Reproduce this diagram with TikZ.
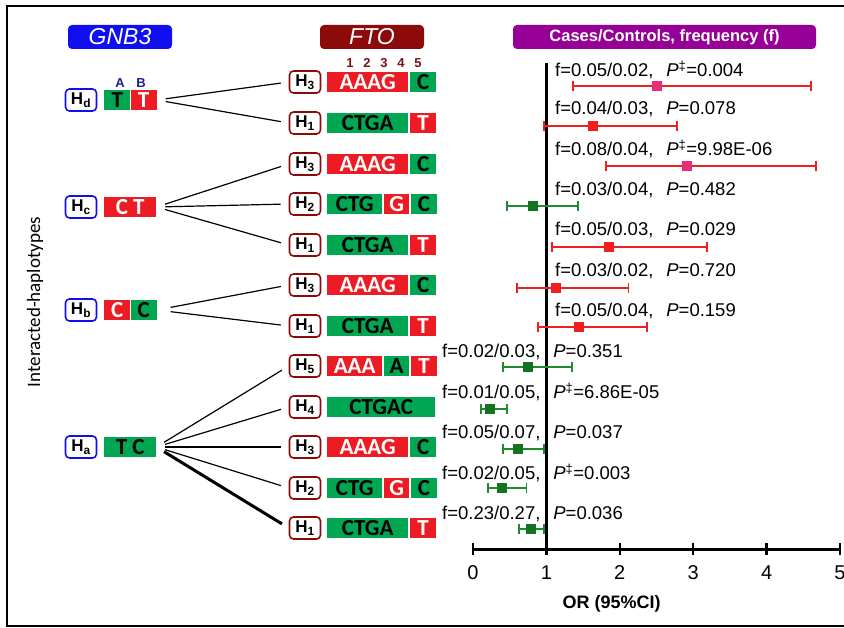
\documentclass[tikz,border=0pt]{standalone}
\usepackage{fontspec}
\setmainfont{Liberation Sans}
\newfontfamily\calibri{Carlito}
\usetikzlibrary{positioning, arrows.meta}

\definecolor{hgreen}{RGB}{0,166,81}
\definecolor{hred}{RGB}{237,28,36}
\definecolor{gblue}{RGB}{15,15,240}
\definecolor{fdark}{RGB}{140,10,10}
\definecolor{cpurple}{RGB}{150,0,150}
\definecolor{abblue}{RGB}{30,30,140}
\definecolor{numred}{RGB}{120,20,20}
\definecolor{ciGreen}{RGB}{30,140,45}
\definecolor{ptGreen}{RGB}{20,115,30}
\definecolor{ciRed}{RGB}{240,30,30}
\definecolor{ptPink}{RGB}{230,45,120}

\tikzset{
  header/.style={rounded corners=4pt, text=white, minimum width=104, minimum height=24, inner sep=0pt, font=\fontsize{23}{25}\selectfont\itshape},
  gnbH/.style={draw=gblue, line width=1.6pt, rounded corners=4pt, fill=white, minimum width=31, minimum height=22, inner sep=0pt, font=\fontsize{17}{19}\selectfont\bfseries},
  ftoH/.style={gnbH, draw=fdark},
  seqcell/.style={minimum height=20, inner sep=0pt, anchor=west, font=\calibri\fontsize{23}{24}\selectfont\bfseries},
  gcell/.style={seqcell, fill=hgreen, text=black},
  rcell/.style={seqcell, fill=hred, text=white},
  link/.style={line width=1.2pt, shorten <=9pt, shorten >=8pt},
  stat/.style={anchor=west, inner sep=0pt, font=\fontsize{18.5}{20}\selectfont},
  redci/.style={ciRed, line width=1.8pt, {Bar[width=10pt]}-{Bar[width=10pt]}},
  greenci/.style={ciGreen, line width=1.8pt, {Bar[width=10pt]}-{Bar[width=10pt]}},
  dot/.style={minimum size=10, inner sep=0pt},
  ticklab/.style={font=\fontsize{20}{22}\selectfont},
}

\begin{document}
\begin{tikzpicture}[x=1pt, y=-1pt]
    \useasboundingbox (0,0) rectangle (844,628);

    % Frame around the figure
    \draw[line width=2.5pt] (850,6) -- (7,6) -- (7,626) -- (850,626);

    % Headers of the three columns
    \node[header, fill=gblue] (gnb) at (120,37) {GNB3};
    \node[header, fill=fdark] (fto) at (372,37) {FTO};
    \node[header, fill=cpurple, minimum width=303, font=\fontsize{16.5}{18}\selectfont\bfseries] (cc) at (664.5,37) {Cases/Controls, frequency (f)};

    % Axis title on the left
    \node[rotate=90, font=\calibri\fontsize{19}{22}\selectfont] (ylab) at (35,302) {Interacted-haplotypes};

    % GNB3 haplotypes
    \node[gnbH] (hd) at (81,100) {H\textsubscript{d}};
    \node[gcell, minimum width=26] (hdA) at (104,100) {T};
    \node[rcell, minimum width=26, right=0pt of hdA] (hdB) {T};
    \node[text=abblue, font=\fontsize{13}{14}\selectfont\bfseries] (labA) at (120,83) {A};
    \node[text=abblue, font=\fontsize{13}{14}\selectfont\bfseries] (labB) at (141,83) {B};

    \node[gnbH] (hc) at (81,207) {H\textsubscript{c}};
    \node[rcell, minimum width=52] (hcS) at (104,207) {C T};

    \node[gnbH] (hb) at (81,310) {H\textsubscript{b}};
    \node[rcell, minimum width=26] (hbA) at (104,310) {C};
    \node[gcell, minimum width=26, right=0pt of hbA] (hbB) {C};

    \node[gnbH] (ha) at (81,447) {H\textsubscript{a}};
    \node[gcell, minimum width=52] (haS) at (104,447) {T C};

    % FTO site numbers
    \node[text=numred, font=\fontsize{13}{14}\selectfont\bfseries] (num1) at (350,63) {1};
    \node[text=numred, font=\fontsize{13}{14}\selectfont\bfseries] (num2) at (367,63) {2};
    \node[text=numred, font=\fontsize{13}{14}\selectfont\bfseries] (num3) at (384,63) {3};
    \node[text=numred, font=\fontsize{13}{14}\selectfont\bfseries] (num4) at (401,63) {4};
    \node[text=numred, font=\fontsize{13}{14}\selectfont\bfseries] (num5) at (418,63) {5};

    % FTO haplotypes, one per row
    \node[ftoH] (f1) at (305,82) {H\textsubscript{3}};
    \node[rcell, minimum width=81] (s1a) at (327,82) {AAAG};
    \node[gcell, minimum width=26, right=1.5pt of s1a] (s1b) {C};

    \node[ftoH] (f2) at (305,123) {H\textsubscript{1}};
    \node[gcell, minimum width=81] (s2a) at (327,123) {CTGA};
    \node[rcell, minimum width=26, right=1.5pt of s2a] (s2b) {T};

    \node[ftoH] (f3) at (305,164) {H\textsubscript{3}};
    \node[rcell, minimum width=81] (s3a) at (327,164) {AAAG};
    \node[gcell, minimum width=26, right=1.5pt of s3a] (s3b) {C};

    \node[ftoH] (f4) at (305,204) {H\textsubscript{2}};
    \node[gcell, minimum width=55] (s4a) at (327,204) {CTG};
    \node[rcell, minimum width=25, right=1.5pt of s4a] (s4b) {G};
    \node[gcell, minimum width=26, right=1.5pt of s4b] (s4c) {C};

    \node[ftoH] (f5) at (305,245) {H\textsubscript{1}};
    \node[gcell, minimum width=81] (s5a) at (327,245) {CTGA};
    \node[rcell, minimum width=26, right=1.5pt of s5a] (s5b) {T};

    \node[ftoH] (f6) at (305,285) {H\textsubscript{3}};
    \node[rcell, minimum width=81] (s6a) at (327,285) {AAAG};
    \node[gcell, minimum width=26, right=1.5pt of s6a] (s6b) {C};

    \node[ftoH] (f7) at (305,326) {H\textsubscript{1}};
    \node[gcell, minimum width=81] (s7a) at (327,326) {CTGA};
    \node[rcell, minimum width=26, right=1.5pt of s7a] (s7b) {T};

    \node[ftoH] (f8) at (305,366) {H\textsubscript{5}};
    \node[rcell, minimum width=55] (s8a) at (327,366) {AAA};
    \node[gcell, minimum width=25, right=1.5pt of s8a] (s8b) {A};
    \node[rcell, minimum width=26, right=1.5pt of s8b] (s8c) {T};

    \node[ftoH] (f9) at (305,407) {H\textsubscript{4}};
    \node[gcell, minimum width=108] (s9a) at (327,407) {CTGAC};

    \node[ftoH] (f10) at (305,447) {H\textsubscript{3}};
    \node[rcell, minimum width=81] (s10a) at (327,447) {AAAG};
    \node[gcell, minimum width=26, right=1.5pt of s10a] (s10b) {C};

    \node[ftoH] (f11) at (305,488) {H\textsubscript{2}};
    \node[gcell, minimum width=55] (s11a) at (327,488) {CTG};
    \node[rcell, minimum width=25, right=1.5pt of s11a] (s11b) {G};
    \node[gcell, minimum width=26, right=1.5pt of s11b] (s11c) {C};

    \node[ftoH] (f12) at (305,528) {H\textsubscript{1}};
    \node[gcell, minimum width=81] (s12a) at (327,528) {CTGA};
    \node[rcell, minimum width=26, right=1.5pt of s12a] (s12b) {T};

    % Draw links from GNB3 to FTO haplotypes
    \draw[link] (hdB.east) -- (f1.west);
    \draw[link] (hdB.east) -- (f2.west);
    \draw[link] (hcS.east) -- (f3.west);
    \draw[link] (hcS.east) -- (f4.west);
    \draw[link] (hcS.east) -- (f5.west);
    \draw[link, shorten <=14pt] (hbB.east) -- (f6.west);
    \draw[link, shorten <=14pt] (hbB.east) -- (f7.west);
    \draw[link] (haS.east) -- (f8.west);
    \draw[link] (haS.east) -- (f9.west);
    \draw[link] (haS.east) -- (f10.west);
    \draw[link] (haS.east) -- (f11.west);
    \draw[link, line width=3pt] (haS.east) -- (f12.west);

    % Frequencies and P values
    \node[stat] (t1) at (555,70) {f=0.05/0.02,\hspace{0.7em}\textit{P}\textsuperscript{‡}=0.004};
    \node[stat] (t2) at (555,109) {f=0.04/0.03,\hspace{0.7em}\textit{P}=0.078};
    \node[stat] (t3) at (555,149) {f=0.08/0.04,\hspace{0.7em}\textit{P}\textsuperscript{‡}=9.98E-06};
    \node[stat] (t4) at (555,190) {f=0.03/0.04,\hspace{0.7em}\textit{P}=0.482};
    \node[stat] (t5) at (555,230) {f=0.05/0.03,\hspace{0.7em}\textit{P}=0.029};
    \node[stat] (t6) at (555,271) {f=0.03/0.02,\hspace{0.7em}\textit{P}=0.720};
    \node[stat] (t7) at (555,311) {f=0.05/0.04,\hspace{0.7em}\textit{P}=0.159};
    \node[stat] (t8) at (442,352) {f=0.02/0.03,\hspace{0.7em}\textit{P}=0.351};
    \node[stat] (t9) at (442,392) {f=0.01/0.05,\hspace{0.7em}\textit{P}\textsuperscript{‡}=6.86E-05};
    \node[stat] (t10) at (442,433) {f=0.05/0.07,\hspace{0.7em}\textit{P}=0.037};
    \node[stat] (t11) at (442,473) {f=0.02/0.05,\hspace{0.7em}\textit{P}\textsuperscript{‡}=0.003};
    \node[stat] (t12) at (442,514) {f=0.23/0.27,\hspace{0.7em}\textit{P}=0.036};

    % Forest plot, x in odds-ratio units
    \begin{scope}[xshift=473pt, x=73.4pt]
        \draw[line width=3pt] (1,63) -- (1,549);
        \draw[line width=3pt] (0,549) -- (5,549);
        \draw[line width=2.5pt] (0,543) -- (0,555);
        \draw[line width=2.5pt] (1,543) -- (1,555);
        \draw[line width=2.5pt] (2,543) -- (2,555);
        \draw[line width=2.5pt] (3,543) -- (3,555);
        \draw[line width=2.5pt] (4,543) -- (4,555);
        \draw[line width=2.5pt] (5,543) -- (5,555);
        \node[ticklab] (x0) at (0,573) {0};
        \node[ticklab] (x1) at (1,573) {1};
        \node[ticklab] (x2) at (2,573) {2};
        \node[ticklab] (x3) at (3,573) {3};
        \node[ticklab] (x4) at (4,573) {4};
        \node[ticklab] (x5) at (5,573) {5};
        \node[font=\fontsize{18}{20}\selectfont\bfseries] (xlab) at (1.89,604) {OR (95\%CI)};

        % Confidence intervals and point estimates
        \draw[redci] (1.35,86) -- (4.62,86);
        \node[dot, fill=ptPink] (p1) at (2.51,86) {};
        \draw[redci] (0.95,126) -- (2.79,126);
        \node[dot, fill=ciRed] (p2) at (1.63,126) {};
        \draw[redci] (1.80,166) -- (4.69,166);
        \node[dot, fill=ptPink] (p3) at (2.92,166) {};
        \draw[greenci] (0.45,206) -- (1.44,206);
        \node[dot, fill=ptGreen] (p4) at (0.82,206) {};
        \draw[redci] (1.06,247) -- (3.20,247);
        \node[dot, fill=ciRed] (p5) at (1.85,247) {};
        \draw[redci] (0.59,288) -- (2.13,288);
        \node[dot, fill=ciRed] (p6) at (1.13,288) {};
        \draw[redci] (0.87,327) -- (2.38,327);
        \node[dot, fill=ciRed] (p7) at (1.44,327) {};
        \draw[greenci] (0.40,367) -- (1.36,367);
        \node[dot, fill=ptGreen] (p8) at (0.75,367) {};
        \draw[greenci] (0.10,409) -- (0.48,409);
        \node[dot, fill=ptGreen] (p9) at (0.23,409) {};
        \draw[greenci] (0.40,449) -- (0.98,449);
        \node[dot, fill=ptGreen] (p10) at (0.61,449) {};
        \draw[greenci] (0.19,488) -- (0.74,488);
        \node[dot, fill=ptGreen] (p11) at (0.40,488) {};
        \draw[greenci] (0.61,529) -- (0.98,529);
        \node[dot, fill=ptGreen] (p12) at (0.79,529) {};
    \end{scope}
\end{tikzpicture}
\end{document}
